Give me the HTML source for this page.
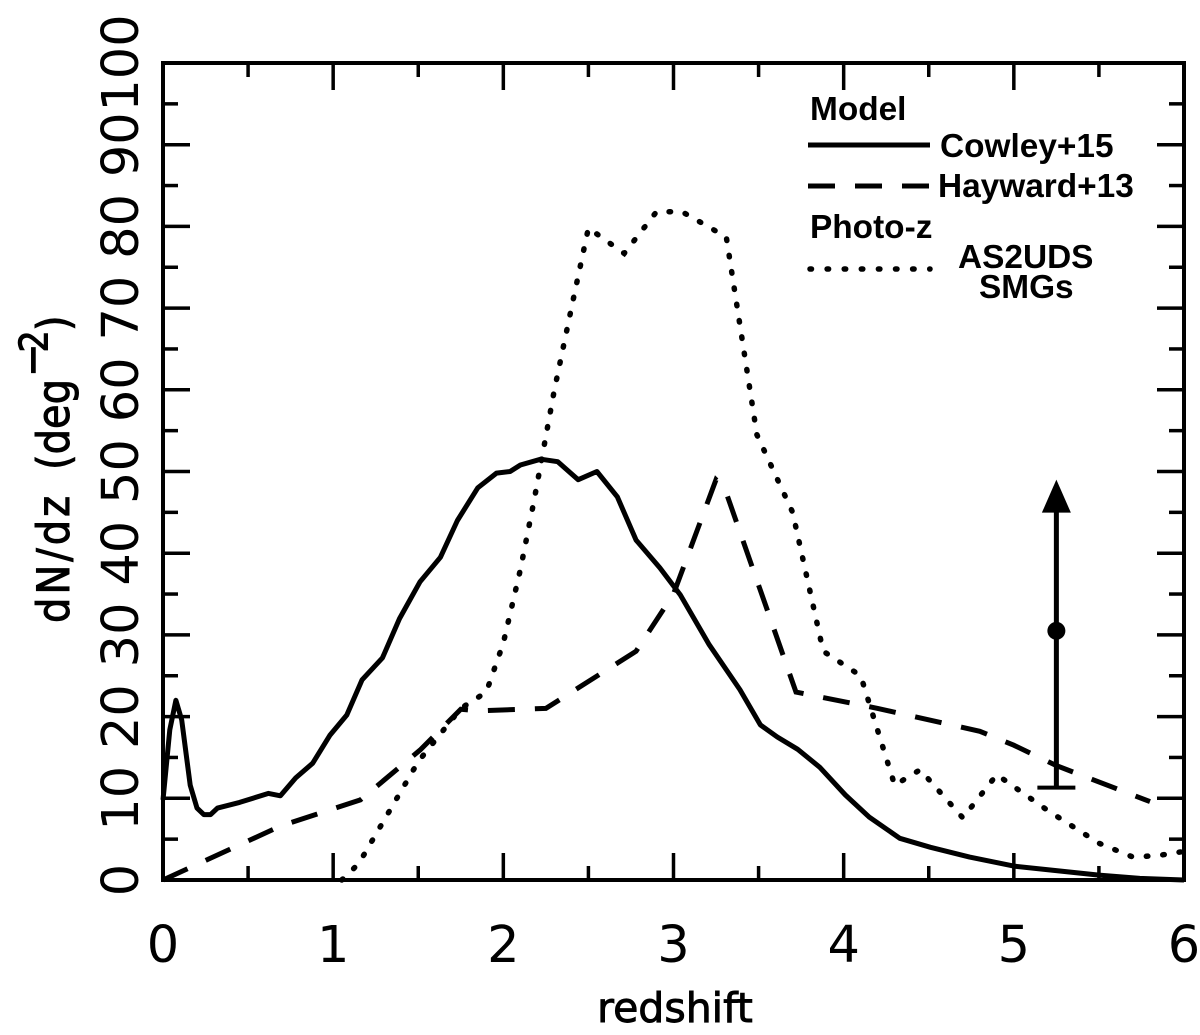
<!DOCTYPE html>
<html>
<head>
<meta charset="utf-8">
<title>dN/dz versus redshift</title>
<style>
html,body{margin:0;padding:0;background:#fff;width:1200px;height:1035px;overflow:hidden}
svg{display:block}
.tick{font-family:"DejaVu Sans",sans-serif;font-size:51px;fill:#000}
.title{font-family:"DejaVu Sans",sans-serif;font-size:40px;fill:#000;stroke:#000;stroke-width:0.9px}
.leg{font-family:"Liberation Sans",sans-serif;font-weight:bold;font-size:33.4px;fill:#000}
</style>
</head>
<body>
<svg id="chart" xmlns="http://www.w3.org/2000/svg" width="1200" height="1035" viewBox="0 0 1200 1035">
  <g id="series"></g>
  <g id="axes"></g>
  <text class="title" x="675" y="1022" text-anchor="middle" style="font-size:41px">redshift</text>
  <text class="title" transform="translate(69,623) rotate(-90) scale(1,1.12)"><tspan x="0" y="0" letter-spacing="3">dN/dz</tspan><tspan x="153" y="0">(deg</tspan><tspan x="246" y="-19">−</tspan><tspan x="270.5" y="-19" font-size="35">2</tspan><tspan x="292" y="0">)</tspan></text>
  <g>
    <text class="leg" x="810" y="120">Model</text>
    <line x1="808" y1="145" x2="930" y2="145" stroke="#000" stroke-width="5"/>
    <text class="leg" x="940" y="157">Cowley+15</text>
    <line x1="808" y1="186" x2="930" y2="186" stroke="#000" stroke-width="5" stroke-dasharray="27 20"/>
    <text class="leg" x="938" y="197">Hayward+13</text>
    <text class="leg" x="810" y="238">Photo-z</text>
    <line x1="810" y1="269" x2="930" y2="269" stroke="#000" stroke-width="5.5" stroke-linecap="round" stroke-dasharray="1.5 15.6"/>
    <text class="leg" x="958" y="268">AS2UDS</text>
    <text class="leg" x="979" y="298">SMGs</text>
  </g>
</svg>
<script>
const xTickLabels = [0, 1, 2, 3, 4, 5, 6];
const yTickLabels = [0, 10, 20, 30, 40, 50, 60, 70, 80, 90, 100];
const cowleyZ = [0,0.04,0.076,0.11,0.16,0.2,0.24,0.28,0.32,0.45,0.62,0.69,0.78,0.88,0.98,1.08,1.17,1.29,1.39,1.51,1.63,1.73,1.85,1.96,2.04,2.1,2.22,2.32,2.44,2.55,2.67,2.78,2.92,3.04,3.21,3.39,3.51,3.61,3.73,3.86,4.01,4.15,4.33,4.51,4.74,5,5.27,5.5,5.74,6];
const cowleyN = [9.8,18.4,22,19.6,11.6,8.8,8,8,8.8,9.5,10.6,10.3,12.5,14.3,17.7,20.2,24.5,27.2,32,36.5,39.5,44,48,49.8,50,50.8,51.5,51.2,49,50,46.9,41.6,38.2,34.9,28.8,23.3,19,17.5,16,13.8,10.4,7.7,5.1,4,2.8,1.7,1.1,0.6,0.2,0];
const haywardZ = [0,0.69,1.16,1.51,1.75,1.85,2.25,2.78,3,3.25,3.3,3.72,4.2,4.8,5,5.25,5.8];
const haywardN = [0,6.6,9.8,15.9,20.9,20.7,21,28,35,49,48,23,21,18.2,16.5,14,9.6];
const photoZ = [1.05,1.15,1.5,1.75,1.9,2,2.1,2.18,2.3,2.4,2.5,2.71,2.9,3.05,3.31,3.49,3.7,3.88,4.1,4.3,4.45,4.7,4.9,5.2,5.5,5.7,5.85,6];
const photoN = [0,2,14.5,21,23,29,38,46.4,60,70,79.8,76.7,81.8,81.8,78.7,54.5,45,28,25,11.6,13.5,7.6,12.9,8.5,4.5,2.8,3,3.5];
const limitZ = [5.25];
const limitN = [30.5];
const limitLow = [11.3];
const limitHigh = [49];

const NS = 'http://www.w3.org/2000/svg';
const left = 163, right = 1184, top_ = 63, bottom = 880;
const sx = z => left + (z / 6) * (right - left);
const sy = v => bottom - (v / 100) * (bottom - top_);
const axes = document.getElementById('axes');
const seriesG = document.getElementById('series');

function mk(parent, tag, attrs) {
  const el = document.createElementNS(NS, tag);
  for (const k in attrs) el.setAttribute(k, attrs[k]);
  parent.appendChild(el);
  return el;
}
function polyPoints(zs, ns) {
  return zs.map((z, i) => sx(z).toFixed(1) + ',' + sy(ns[i]).toFixed(1)).join(' ');
}

const cowley = mk(seriesG, 'polyline', {points: polyPoints(cowleyZ, cowleyN), fill: 'none', stroke: '#000', 'stroke-width': 5, 'stroke-linejoin': 'round'});



const hayward = mk(seriesG, 'polyline', {points: polyPoints(haywardZ, haywardN), fill: 'none', stroke: '#000', 'stroke-width': 5, 'stroke-dasharray': '27 20'});



const photo = mk(seriesG, 'polyline', {points: polyPoints(photoZ, photoN), fill: 'none', stroke: '#000', 'stroke-width': 5.5, 'stroke-linecap': 'round', 'stroke-dasharray': '1.5 15'});



const lx = sx(limitZ[0]);
const limitLine = mk(seriesG, 'line', {x1: lx, x2: lx, y1: sy(limitLow[0]), y2: sy(limitHigh[0]) + 30, stroke: '#000', 'stroke-width': 5});


const limitCap = mk(seriesG, 'line', {x1: lx - 19, x2: lx + 19, y1: sy(limitLow[0]), y2: sy(limitLow[0]), stroke: '#000', 'stroke-width': 4});


const limitArrow = mk(seriesG, 'polygon', {points: lx + ',' + sy(limitHigh[0]) + ' ' + (lx - 14.5) + ',' + (sy(limitHigh[0]) + 33) + ' ' + (lx + 14.5) + ',' + (sy(limitHigh[0]) + 33), fill: '#000'});


const limitDot = mk(seriesG, 'circle', {cx: lx, cy: sy(limitN[0]), r: 9, fill: '#000'});



const frame = mk(axes, 'rect', {x: left, y: top_, width: right - left, height: bottom - top_, fill: 'none', stroke: '#000', 'stroke-width': 4});



xTickLabels.forEach((lab, i) => {
  const x = sx(lab);
  [[bottom, bottom - 27], [top_, top_ + 27]].forEach(p => {
    const t = mk(axes, 'line', {x1: x, x2: x, y1: p[0], y2: p[1], stroke: '#000', 'stroke-width': 3.5});
    
    
  });
  if (i < xTickLabels.length - 1) {
    const xm = sx(lab + 0.5);
    [[bottom, bottom - 14], [top_, top_ + 14]].forEach(p => {
      const t = mk(axes, 'line', {x1: xm, x2: xm, y1: p[0], y2: p[1], stroke: '#000', 'stroke-width': 3.5});
      
      
    });
  }
  const txt = mk(axes, 'text', {class: 'tick', x: x, y: 962, 'text-anchor': 'middle'});
  txt.textContent = lab;
  
  
});

yTickLabels.forEach((lab, i) => {
  const y = sy(lab);
  [[left, left + 27], [right, right - 27]].forEach(p => {
    const t = mk(axes, 'line', {x1: p[0], x2: p[1], y1: y, y2: y, stroke: '#000', 'stroke-width': 3.5});
    
    
  });
  if (i < yTickLabels.length - 1) {
    const ym = sy(lab + 5);
    [[left, left + 15], [right, right - 15]].forEach(p => {
      const t = mk(axes, 'line', {x1: p[0], x2: p[1], y1: ym, y2: ym, stroke: '#000', 'stroke-width': 3.5});
      
      
    });
  }
  const txt = mk(axes, 'text', {class: 'tick', transform: 'translate(138,' + y + ') rotate(-90)', 'text-anchor': 'middle'});
  txt.textContent = lab;
  
  
});
</script>
</body>
</html>
